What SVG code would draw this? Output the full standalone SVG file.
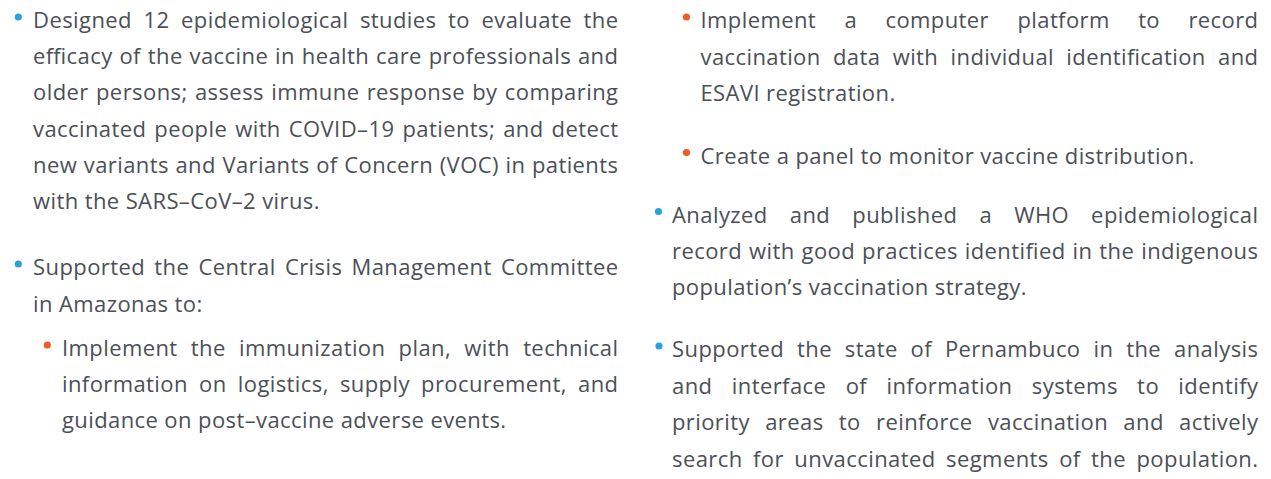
<svg xmlns="http://www.w3.org/2000/svg" width="1271" height="479" viewBox="0 0 1271 479">
<style>
text{font-family:"Open Sans","Noto Sans",sans-serif;font-size:22px;fill:#4b5057}
.n{letter-spacing:0.4px}
.b{fill:#2ba0df}
.o{fill:#ef5a28}
</style>
<rect width="1271" height="479" fill="#ffffff"/>
<g id="item-studies">
<circle class="b" cx="18.3" cy="17" r="3.6"/>
<text x="33" y="28" textLength="585" lengthAdjust="spacing" style="word-spacing:5.4px">Designed 12 epidemiological studies to evaluate the</text>
<text x="33" y="64.2" textLength="585" lengthAdjust="spacing" style="word-spacing:0.7px">efficacy of the vaccine in health care professionals and</text>
<text x="33" y="100.4" textLength="585" lengthAdjust="spacing" style="word-spacing:1.1px">older persons; assess immune response by comparing</text>
<text x="33" y="136.6" textLength="585" lengthAdjust="spacing" style="word-spacing:1.9px">vaccinated people with COVID–19 patients; and detect</text>
<text x="33" y="172.8" textLength="585" lengthAdjust="spacing" style="word-spacing:0.5px">new variants and Variants of Concern (VOC) in patients</text>
<text class="n" x="33" y="209">with the SARS–CoV–2 virus.</text>
</g>
<g id="item-committee">
<circle class="b" cx="18.3" cy="264" r="3.6"/>
<text x="33" y="275" textLength="585" lengthAdjust="spacing" style="word-spacing:3.1px">Supported the Central Crisis Management Committee</text>
<text class="n" x="33" y="311.5">in Amazonas to:</text>
</g>
<g id="item-immunization">
<circle class="o" cx="47.3" cy="345" r="3.6"/>
<text x="62" y="355.5" textLength="556" lengthAdjust="spacing" style="word-spacing:7.1px">Implement the immunization plan, with technical</text>
<text x="62" y="391.7" textLength="556" lengthAdjust="spacing" style="word-spacing:5.1px">information on logistics, supply procurement, and</text>
<text class="n" x="62" y="427.9">guidance on post–vaccine adverse events.</text>
</g>
<g id="item-platform">
<circle class="o" cx="686.5" cy="17" r="3.6"/>
<text x="700.5" y="28" textLength="557.5" lengthAdjust="spacing" style="word-spacing:22.3px">Implement a computer platform to record</text>
<text x="700.5" y="64.5" textLength="557.5" lengthAdjust="spacing" style="word-spacing:6.2px">vaccination data with individual identification and</text>
<text class="n" x="700.5" y="100.5">ESAVI registration.</text>
</g>
<g id="item-panel">
<circle class="o" cx="686.5" cy="152.5" r="3.6"/>
<text class="n" x="700.5" y="163.5">Create a panel to monitor vaccine distribution.</text>
</g>
<g id="item-who">
<circle class="b" cx="658.5" cy="211.5" r="3.6"/>
<text x="672" y="222.5" textLength="586" lengthAdjust="spacing" style="word-spacing:15.9px">Analyzed and published a WHO epidemiological</text>
<text x="672" y="258.5" textLength="586" lengthAdjust="spacing" style="word-spacing:0.8px">record with good practices identified in the indigenous</text>
<text class="n" x="672" y="294.5">population’s vaccination strategy.</text>
</g>
<g id="item-pernambuco">
<circle class="b" cx="659" cy="346" r="3.6"/>
<text x="672" y="357" textLength="586" lengthAdjust="spacing" style="word-spacing:6.8px">Supported the state of Pernambuco in the analysis</text>
<text x="672" y="393.5" textLength="586" lengthAdjust="spacing" style="word-spacing:13.2px">and interface of information systems to identify</text>
<text x="672" y="430" textLength="586" lengthAdjust="spacing" style="word-spacing:9.2px">priority areas to reinforce vaccination and actively</text>
<text x="672" y="466.5" textLength="586" lengthAdjust="spacing" style="word-spacing:4.3px">search for unvaccinated segments of the population.</text>
</g>
</svg>
